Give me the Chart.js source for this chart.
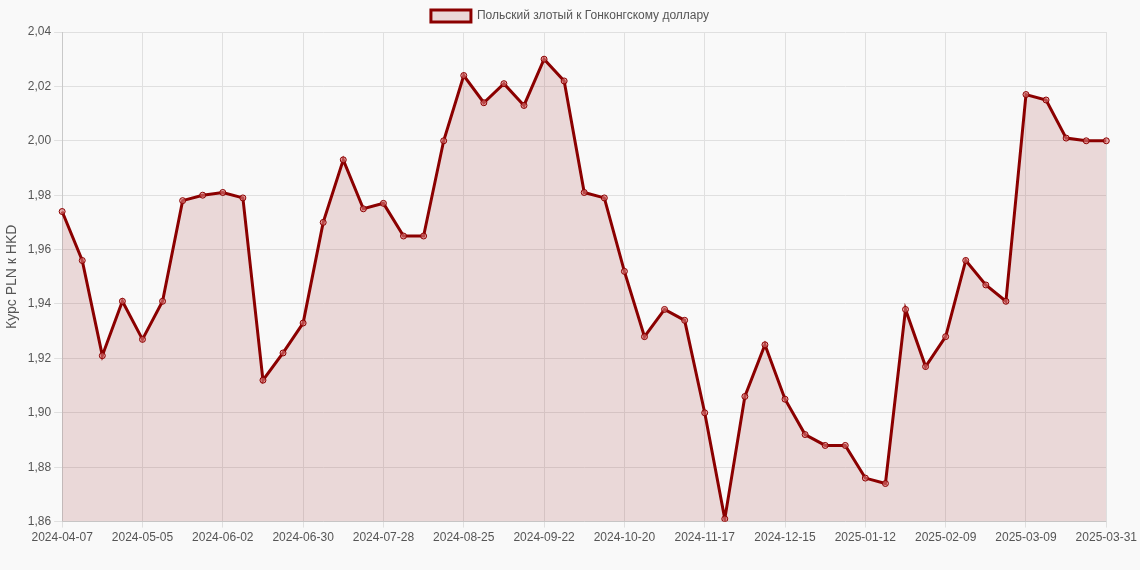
<!DOCTYPE html>
<html>
<head>
<meta charset="utf-8">
<script src="https://cdn.jsdelivr.net/npm/chart.js@4"></script>
<style>
  html, body { margin: 0; padding: 0; background: #f9f9f9; }
  #wrap { width: 1140px; height: 570px; }
</style>
</head>
<body>
<div id="wrap"><canvas id="chart"></canvas></div>
<script>
const startDate = new Date(Date.UTC(2024, 3, 7));
const dateLabels = [];
for (let i = 0; i < 52; i++) {
  const d = new Date(startDate.getTime() + i * 7 * 86400000);
  dateLabels.push(d.toISOString().slice(0, 10));
}
dateLabels.push('2025-03-31');

const rateValues = [
  1.974, 1.956, 1.921, 1.941, 1.927, 1.941, 1.978, 1.980, 1.981, 1.979,
  1.912, 1.922, 1.933, 1.970, 1.993, 1.975, 1.977, 1.965, 1.965, 2.000,
  2.024, 2.014, 2.021, 2.013, 2.030, 2.022, 1.981, 1.979, 1.952, 1.928,
  1.938, 1.934, 1.900, 1.861, 1.906, 1.925, 1.905, 1.892, 1.888, 1.888,
  1.876, 1.874, 1.938, 1.917, 1.928, 1.956, 1.947, 1.941, 2.017, 2.015,
  2.001, 2.000, 2.000,
];

const shown = i => i % 4 === 0 || i === dateLabels.length - 1;

const ctx = document.getElementById('chart').getContext('2d');
new Chart(ctx, {
  type: 'line',
  data: {
    labels: dateLabels,
    datasets: [{
      label: 'Польский злотый к Гонконгскому доллару',
      data: rateValues,
      borderColor: '#8b0000',
      backgroundColor: 'rgba(139, 0, 0, 0.13)',
      borderWidth: 3,
      fill: true,
      tension: 0,
      pointRadius: 3,
      pointBorderWidth: 1,
      pointBackgroundColor: 'rgba(220, 120, 120, 0.6)',
      pointBorderColor: '#8b0000',
    }],
  },
  options: {
    responsive: true,
    maintainAspectRatio: false,
    animation: false,
    layout: { padding: { bottom: 22 } },
    plugins: {
      legend: {
        labels: { color: '#555', font: { family: 'Arial, Liberation Sans', size: 12 } },
      },
    },
    scales: {
      x: {
        ticks: {
          autoSkip: false,
          maxRotation: 0,
          color: '#555',
          font: { size: 12 },
          callback: (v, i) => shown(i) ? dateLabels[i] : '',
        },
        grid: {
          color: c => shown(c.index) ? '#e0e0e0' : 'rgba(0,0,0,0)',
          tickLength: 6,
        },
      },
      y: {
        min: 1.86,
        max: 2.04,
        ticks: {
          stepSize: 0.02,
          color: '#555',
          font: { size: 12 },
          callback: v => v.toFixed(2).replace('.', ','),
        },
        title: { display: true, text: 'Курс PLN к HKD', color: '#555', font: { size: 14 } },
        grid: { color: '#e0e0e0' },
      },
    },
  },
});
</script>
</body>
</html>
